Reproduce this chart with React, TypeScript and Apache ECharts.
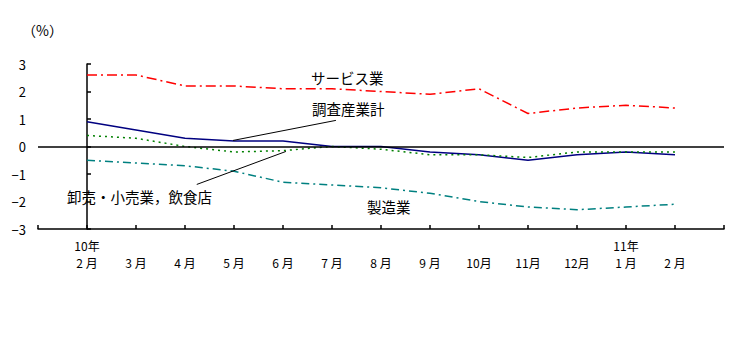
import React, { useEffect, useRef } from "react";
import * as echarts from "echarts";

const months = ["2 月", "3 月", "4 月", "5 月", "6 月", "7 月", "8 月", "9 月", "10月", "11月", "12月", "1 月", "2 月"];
const years = ["10年", "", "", "", "", "", "", "", "", "", "", "11年", ""];
const service = [2.6, 2.6, 2.2, 2.2, 2.1, 2.1, 2.0, 1.9, 2.1, 1.2, 1.4, 1.5, 1.4];
const total = [0.9, 0.6, 0.3, 0.2, 0.2, 0.0, 0.0, -0.2, -0.3, -0.5, -0.3, -0.2, -0.3];
const retail = [0.4, 0.3, 0.0, -0.2, -0.15, 0.0, -0.1, -0.3, -0.3, -0.4, -0.2, -0.2, -0.2];
const manufacturing = [-0.5, -0.6, -0.7, -0.9, -1.3, -1.4, -1.5, -1.7, -2.0, -2.2, -2.3, -2.2, -2.1];

const FONT = "'Noto Sans CJK JP', sans-serif";

function toPairs(arr: number[]) {
  return arr.map((v, i) => [i, v]);
}

export default function App() {
  const ref = useRef<HTMLDivElement>(null);
  useEffect(() => {
    document.body.style.margin = "0";
    if (!ref.current) return;
    const chart = echarts.init(ref.current, undefined, { renderer: "svg" });
    const lineBase = { type: "line", showSymbol: false, symbol: "none", z: 3 } as any;
    chart.setOption({
      animation: false,
      grid: { left: 38, right: 22, top: 64, bottom: 130 },
      xAxis: {
        type: "value",
        min: -1,
        max: 13,
        interval: 1,
        axisLine: { show: true, onZero: false, lineStyle: { color: "#000", width: 1.5 } },
        axisTick: { show: true, inside: true, length: 4, lineStyle: { color: "#000", width: 1.5 } },
        splitLine: { show: false },
        axisLabel: {
          margin: 8,
          fontFamily: FONT,
          fontSize: 12,
          lineHeight: 17,
          color: "#000",
          formatter: (v: number) => {
            const i = Math.round(v);
            if (i < 0 || i >= months.length) return "";
            return (years[i] ? years[i] : "") + "\n" + months[i];
          },
        },
      },
      yAxis: {
        type: "value",
        min: -3,
        max: 3,
        interval: 1,
        axisLine: { show: true, lineStyle: { color: "#000", width: 1.5 } },
        axisTick: { show: true, inside: true, length: 4, lineStyle: { color: "#000", width: 1.5 } },
        splitLine: { show: false },
        axisLabel: {
          margin: 12,
          fontFamily: FONT,
          fontSize: 13,
          color: "#000",
          formatter: (v: number) => (v < 0 ? "−" + Math.abs(v) : String(v)),
        },
      },
      series: [
        {
          ...lineBase,
          name: "サービス業",
          data: toPairs(service),
          lineStyle: { color: "#ff0000", width: 1.5, type: [10, 4, 2, 4] },
          markLine: {
            silent: true,
            symbol: "none",
            label: { show: false },
            lineStyle: { color: "#000", width: 1.5, type: "solid" },
            data: [{ yAxis: 0 }],
          },
        },
        {
          ...lineBase,
          name: "調査産業計",
          data: toPairs(total),
          lineStyle: { color: "#000080", width: 1.5, type: "solid" },
          markLine: {
            silent: true,
            symbol: "none",
            label: { show: false },
            lineStyle: { color: "#000", width: 1, type: "solid" },
            data: [[{ coord: [2.98, 0.22] }, { coord: [5.08, 0.95] }]],
          },
        },
        {
          ...lineBase,
          name: "卸売・小売業，飲食店",
          data: toPairs(retail),
          lineStyle: { color: "#008000", width: 1.5, type: [2, 4] },
          markLine: {
            silent: true,
            symbol: "none",
            label: { show: false },
            lineStyle: { color: "#000", width: 1, type: "solid" },
            data: [[{ coord: [2.24, -1.38] }, { coord: [4.06, -0.18] }]],
          },
        },
        {
          ...lineBase,
          name: "製造業",
          data: toPairs(manufacturing),
          lineStyle: { color: "#008080", width: 1.5, type: [8, 4, 2, 4] },
        },
      ],
      graphic: [
        { type: "text", left: 22, top: 23, style: { text: "（%）", font: `14px ${FONT}`, fill: "#000" } },
        { type: "text", left: 311, top: 70, style: { text: "サービス業", font: `14.5px ${FONT}`, fill: "#000" } },
        { type: "text", left: 312, top: 101, style: { text: "調査産業計", font: `14.5px ${FONT}`, fill: "#000" } },
        { type: "text", left: 67, top: 189, style: { text: "卸売・小売業，飲食店", font: `14.5px ${FONT}`, fill: "#000" } },
        { type: "text", left: 367, top: 199, style: { text: "製造業", font: `14.5px ${FONT}`, fill: "#000" } },
      ],
    });
    return () => chart.dispose();
  }, []);
  return <div ref={ref} style={{ width: 746, height: 359 }} />;
}
